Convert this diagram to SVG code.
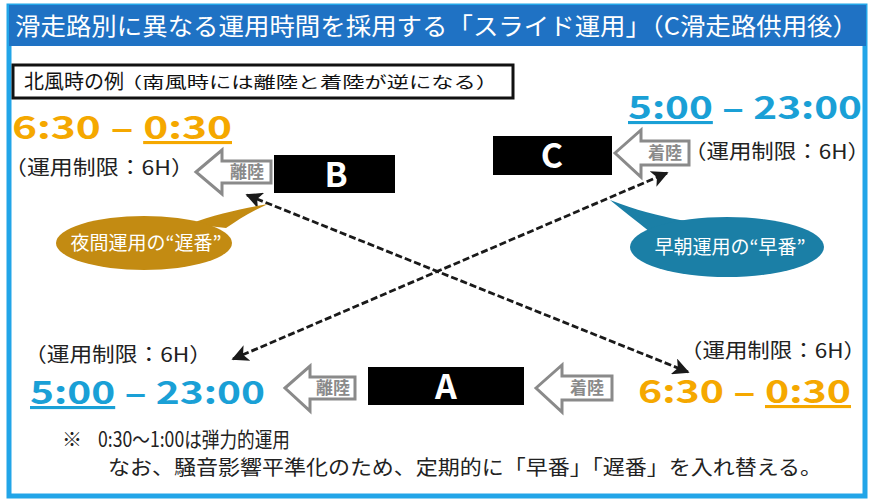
<svg xmlns="http://www.w3.org/2000/svg" width="870" height="502" viewBox="0 0 870 502">
<style>
text{font-family:"Noto Sans CJK JP","Noto Sans",sans-serif}
.title{fill:#fff;font-size:24px}
.lim{fill:#222;font-size:20px}
.orange{fill:#f5a800;font-size:31px;font-weight:bold}
.blue{fill:#1aa0d6;font-size:31px;font-weight:bold}
.rw{fill:#000}
.rwl{fill:#fff;font-size:34px;font-weight:bold;text-anchor:middle}
.harrow{fill:#fff;stroke:#8a8a8a;stroke-width:3;stroke-linejoin:miter}
.alab{fill:#8a8a8a;font-size:17px;font-weight:bold;text-anchor:middle}
.bub{fill:#fff;font-size:19px;text-anchor:middle}
.dash{stroke:#1a1a1a;stroke-width:2.8;stroke-dasharray:7 3;fill:none}
.note{fill:#222;font-size:20px}
</style>
<defs>
<marker id="ah" viewBox="0 0 10 10" refX="9" refY="5" markerWidth="6" markerHeight="6" orient="auto-start-reverse" markerUnits="strokeWidth">
<path d="M0,0 L10,5 L0,10 L2.5,5 Z" fill="#1a1a1a"/>
</marker>
</defs>
<rect x="0" y="0" width="870" height="502" fill="#fff"/>
<rect x="9" y="6" width="856" height="490" fill="#fff" stroke="#22a5e8" stroke-width="5"/>
<g id="title">
<rect x="9" y="5" width="857" height="41" fill="#1f72c4"/>
<text class="title" x="15" y="35" textLength="843" lengthAdjust="spacingAndGlyphs">滑走路別に異なる運用時間を採用する「スライド運用」（C滑走路供用後）</text>
</g>
<g id="legend">
<rect x="13" y="65" width="500" height="33" fill="#fff" stroke="#111" stroke-width="3"/>
<text x="24" y="89" style="font-size:20px;fill:#111">北風時の例</text>
<text x="120" y="88" textLength="378" lengthAdjust="spacingAndGlyphs" style="font-size:16px;fill:#111">（南風時には離陸と着陸が逆になる）</text>
</g>
<g id="connectors">
<line class="dash" x1="247" y1="195" x2="688" y2="372" marker-start="url(#ah)" marker-end="url(#ah)"/>
<line class="dash" x1="233" y1="359" x2="667" y2="173" marker-start="url(#ah)" marker-end="url(#ah)"/>
</g>
<g id="runway-B">
<text class="orange" x="12" y="139" textLength="220" lengthAdjust="spacingAndGlyphs">6:30 – <tspan text-decoration="underline">0:30</tspan></text>
<text class="lim" x="4" y="175" textLength="190" lengthAdjust="spacingAndGlyphs">（運用制限：6H）</text>
<path class="harrow" d="M196,172 L222,150 L222,161 L271,161 L271,183 L222,183 L222,194 Z"/>
<text class="alab" x="247" y="178">離陸</text>
<rect class="rw" x="274" y="155" width="121" height="38"/>
<text class="rwl" x="336" y="187">B</text>
</g>
<g id="runway-C">
<text class="blue" x="628" y="119" textLength="234" lengthAdjust="spacingAndGlyphs"><tspan text-decoration="underline">5:00</tspan> – 23:00</text>
<text class="lim" x="684" y="159" textLength="186" lengthAdjust="spacingAndGlyphs">（運用制限：6H）</text>
<rect class="rw" x="493" y="136" width="119" height="39"/>
<text class="rwl" x="552" y="168">C</text>
<path class="harrow" d="M615,153 L641,130 L641,141 L689,141 L689,165 L641,165 L641,177 Z"/>
<text class="alab" x="665" y="159">着陸</text>
</g>
<g id="bubble-late">
<path d="M268,204 C250,212 238,220 226,228 L190,224 C215,214 245,208 268,204 Z" fill="#c38b12"/>
<ellipse cx="144" cy="243" rx="88" ry="27" fill="#c38b12"/>
<text class="bub" x="146" y="250">夜間運用の“遅番”</text>
</g>
<g id="bubble-early">
<path d="M610,200 C635,210 660,216 680,220 L700,222 L650,232 C635,220 622,210 610,200 Z" fill="#1b7fa6"/>
<ellipse cx="727" cy="247" rx="97" ry="30" fill="#1b7fa6"/>
<text class="bub" x="730" y="254">早朝運用の“早番”</text>
</g>
<g id="runway-A">
<text class="lim" x="24" y="362" textLength="188" lengthAdjust="spacingAndGlyphs">（運用制限：6H）</text>
<text class="blue" x="30" y="404" textLength="235" lengthAdjust="spacingAndGlyphs"><tspan text-decoration="underline">5:00</tspan> – 23:00</text>
<path class="harrow" d="M285,388 L310,366 L310,377 L355,377 L355,399 L310,399 L310,411 Z"/>
<text class="alab" x="333" y="394">離陸</text>
<rect class="rw" x="368" y="367" width="156" height="38"/>
<text class="rwl" x="446" y="399">A</text>
<path class="harrow" d="M536,388 L562,365 L562,376 L612,376 L612,400 L562,400 L562,412 Z"/>
<text class="alab" x="587" y="394">着陸</text>
<text class="lim" x="680" y="358" textLength="186" lengthAdjust="spacingAndGlyphs">（運用制限：6H）</text>
<text class="orange" x="638" y="403" textLength="213" lengthAdjust="spacingAndGlyphs">6:30 – <tspan text-decoration="underline">0:30</tspan></text>
</g>
<g id="notes">
<text class="note" x="62" y="447">※</text>
<text class="note" x="98" y="447" textLength="192" lengthAdjust="spacingAndGlyphs" style="font-size:21px">0:30～1:00は弾力的運用</text>
<text class="note" x="108" y="475" textLength="714" lengthAdjust="spacingAndGlyphs">なお、騒音影響平準化のため、定期的に「早番」「遅番」を入れ替える。</text>
</g>
</svg>
